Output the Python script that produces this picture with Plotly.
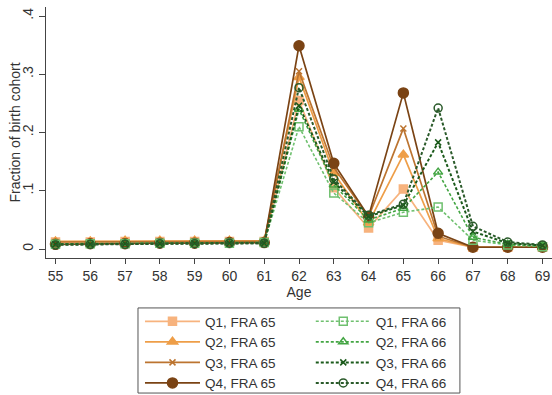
import plotly.graph_objects as go

ages = list(range(55, 70))

q1_65 = [0.012, 0.012, 0.013, 0.013, 0.013, 0.013, 0.013, 0.255, 0.105, 0.036, 0.103, 0.015, 0.003, 0.003, 0.003]
q2_65 = [0.013, 0.013, 0.014, 0.014, 0.014, 0.014, 0.014, 0.295, 0.130, 0.045, 0.162, 0.018, 0.003, 0.003, 0.003]
q3_65 = [0.012, 0.012, 0.013, 0.013, 0.013, 0.013, 0.013, 0.305, 0.140, 0.055, 0.207, 0.022, 0.003, 0.003, 0.003]
q4_65 = [0.008, 0.009, 0.009, 0.010, 0.010, 0.011, 0.011, 0.349, 0.147, 0.056, 0.268, 0.027, 0.003, 0.003, 0.003]

q1_66 = [0.008, 0.009, 0.009, 0.010, 0.010, 0.010, 0.011, 0.210, 0.096, 0.045, 0.063, 0.072, 0.015, 0.007, 0.004]
q2_66 = [0.009, 0.009, 0.010, 0.010, 0.010, 0.011, 0.011, 0.240, 0.110, 0.050, 0.070, 0.132, 0.020, 0.008, 0.005]
q3_66 = [0.008, 0.008, 0.009, 0.009, 0.010, 0.010, 0.010, 0.246, 0.115, 0.056, 0.075, 0.183, 0.030, 0.010, 0.006]
q4_66 = [0.007, 0.008, 0.008, 0.009, 0.009, 0.010, 0.010, 0.277, 0.120, 0.058, 0.077, 0.242, 0.039, 0.012, 0.007]

yticks = [0, 0.1, 0.2, 0.3, 0.4]
yticklabels = ["0", ".1", ".2", ".3", ".4"]
y_title = "Fraction of birth cohort"
x_title = "Age"

series = [
    ("Q1, FRA 65", q1_65, "#F7B37E", "solid", "square", 8, 1.7, "legend"),
    ("Q2, FRA 65", q2_65, "#EE9E48", "solid", "triangle-up", 9, 1.7, "legend"),
    ("Q3, FRA 65", q3_65, "#BC7430", "solid", "x-thin", 6, 1.7, "legend"),
    ("Q4, FRA 65", q4_65, "#7A4314", "solid", "circle", 10, 1.7, "legend"),
    ("Q1, FRA 66", q1_66, "#6FC06F", "3px,2px", "square-open", 8, 1.6, "legend2"),
    ("Q2, FRA 66", q2_66, "#43A543", "3px,2px", "triangle-up-open", 8, 1.6, "legend2"),
    ("Q3, FRA 66", q3_66, "#1B5A1B", "3px,2px", "x-thin", 6, 2.0, "legend2"),
    ("Q4, FRA 66", q4_66, "#2A5A2A", "3px,2px", "circle-open", 8, 2.0, "legend2"),
]

fig = go.Figure()
for name, vals, col, dash, sym, size, lw, leg in series:
    fig.add_trace(go.Scatter(
        x=ages, y=vals, name=name, mode="lines+markers", legend=leg,
        line=dict(color=col, width=lw, dash=dash),
        marker=dict(symbol=sym, size=size, color=col,
                    line=dict(color=col, width=1.5)),
    ))

axis_col = "#444444"
fig.update_layout(
    width=552, height=395,
    margin=dict(l=46, r=0, t=7, b=137, autoexpand=False),
    paper_bgcolor="white", plot_bgcolor="white",
    font=dict(family="Arial, Liberation Sans, sans-serif", size=14, color="#333333"),
    xaxis=dict(
        range=[54.727, 69.273], tickvals=ages, ticks="outside", ticklen=5,
        tickcolor=axis_col, showline=True, linecolor=axis_col, linewidth=1,
        showgrid=False, zeroline=False, tickfont=dict(size=14),
        title=dict(text=x_title, font=dict(size=14), standoff=2),
    ),
    yaxis=dict(
        range=[-0.01545, 0.41545], tickvals=yticks, ticktext=yticklabels,
        tickangle=-90, ticks="outside", ticklen=6, tickcolor=axis_col,
        showline=True, linecolor=axis_col, linewidth=1, showgrid=False,
        zeroline=False, tickfont=dict(size=14),
    ),
    annotations=[dict(text=y_title, xref="paper", yref="paper",
                      x=-0.0613, y=0.5, xanchor="center", yanchor="middle",
                      textangle=-90, showarrow=False,
                      font=dict(size=14, color="#333333"))],
    legend=dict(x=0.2536, y=0.2253, xref="container", yref="container",
                xanchor="left", yanchor="top",
                bgcolor="rgba(0,0,0,0)", borderwidth=0, itemwidth=55,
                font=dict(size=13.5), tracegroupgap=0),
    legend2=dict(x=0.563, y=0.2253, xref="container", yref="container",
                 xanchor="left", yanchor="top",
                 bgcolor="rgba(0,0,0,0)", borderwidth=0, itemwidth=55,
                 font=dict(size=13.5), tracegroupgap=0),
    shapes=[dict(type="rect", xref="paper", yref="paper",
                 x0=0.1818, x1=0.818, y0=-0.538, y1=-0.199,
                 line=dict(color="#555555", width=1))],
)

fig.write_html("out.html")
